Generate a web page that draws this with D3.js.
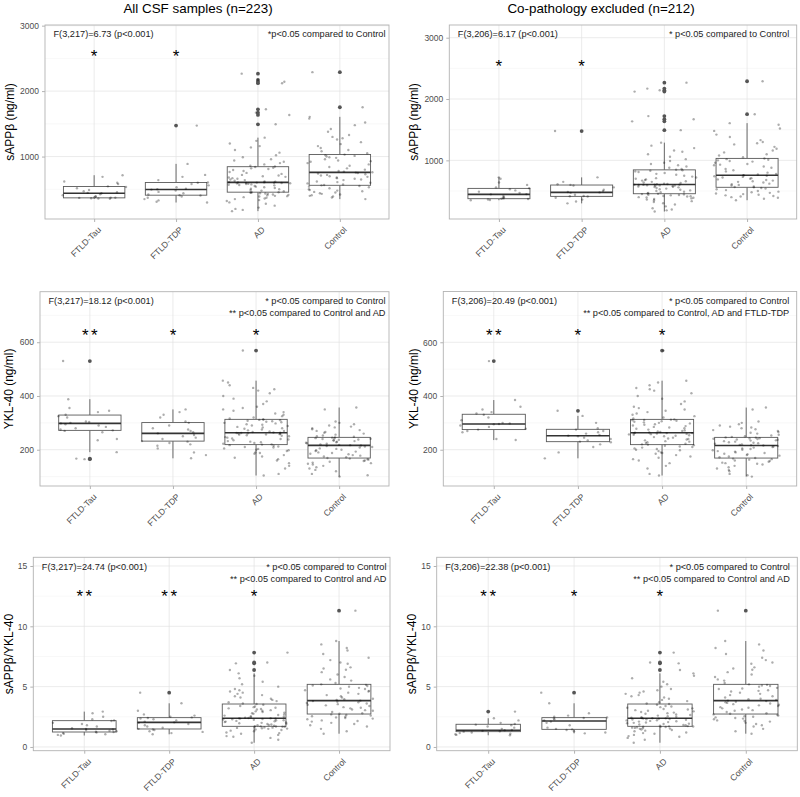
<!DOCTYPE html>
<html><head><meta charset="utf-8">
<script src="https://cdn.jsdelivr.net/npm/d3@7/dist/d3.min.js"></script>
<style>
body{margin:0;background:#fff}
svg{display:block;font-family:"Liberation Sans",Arial,Helvetica,sans-serif}
</style>
</head><body>
<svg id="c" width="800" height="797"></svg>
<script>
// ---------------- DATA ----------------
const categories = ["FTLD-Tau","FTLD-TDP","AD","Control"];
const columnTitles = ["All CSF samples (n=223)","Co-pathology excluded (n=212)"];
const yTitles = ["sAPPβ (ng/ml)","YKL-40 (ng/ml)","sAPPβ/YKL-40"];

// sAPPβ (ng/ml)
const sappbTauAll = [355,360,362,368,370,372,378,385,395,410,425,440,445,455,470,490,515,535,545,580,600,620,690,715];
const sappbTdpAll = [298,310,330,350,370,390,405,410,420,440,460,480,495,500,510,530,560,580,600,605,640,690,720,888,1473];
const sappbTauEx  = [350,355,362,370,375,380,390,400,420,446,450,470,490,510,530,545,560,600,640,700,723];
const sappbTdpEx  = [299,330,360,390,410,415,420,440,470,478,485,500,520,560,590,600,610,650,723,1478];
const sappbAD = [166,185,200,220,250,280,300,320,335,350,360,370,380,390,395,400,410,415,420,430,435,440,445,450,
  455,460,470,480,490,500,510,520,530,540,550,560,565,570,575,580,585,590,592,595,598,600,602,603,
  605,610,615,620,630,640,650,660,670,680,690,700,710,720,735,750,765,780,795,810,820,830,840,847,
  860,880,900,920,940,960,990,1020,1060,1100,1140,1160,1200,1240,1289,1493,1636,1671,1722,2121,2142,2170,2267];
const sappbControl = [350,375,390,400,410,420,430,440,450,460,470,480,490,500,515,530,540,550,560,
  565,575,590,600,610,620,640,650,660,670,680,690,700,710,720,730,740,748,755,
  760,770,780,800,820,840,860,880,900,920,930,940,960,980,990,1000,1010,1020,1030,
  1050,1080,1100,1130,1160,1190,1220,1260,1280,1300,1330,1380,1420,1480,1520,1580,1607,1753,2290];

// YKL-40 (ng/ml)
const yklTauAll = [165,167,191,235,240,265,270,272,275,280,285,290,295,298,300,303,305,320,325,330,340,345,355,388,530];
const yklTdpAll = [168,180,190,205,215,220,225,230,232,240,245,250,255,261,265,270,275,280,290,300,305,320,330,340,350];
const yklTauEx  = [236,240,265,270,275,278,285,290,295,296,298,300,310,320,330,335,340,350,360,385,530];
const yklTdpEx  = [168,190,210,220,228,230,235,240,245,250,252,255,260,265,270,275,280,300,326,345];
const yklAD = [104,110,130,140,150,160,165,170,175,180,185,188,190,195,198,200,203,205,208,210,212,215,217,219,
  220,222,225,228,230,232,235,238,240,242,245,247,250,252,254,256,257,258,259,260,261,262,262,263,
  264,266,268,270,272,275,278,280,283,285,288,290,293,295,298,300,302,304,306,308,310,311,312,313,
  316,320,325,330,335,340,345,350,355,360,370,380,390,400,410,420,425,430,440,450,457,569];
const yklControl = [100,105,110,120,125,130,135,140,145,148,150,152,155,158,160,163,165,167,169,
  172,175,178,180,183,185,188,190,193,195,198,200,203,205,208,210,212,214,216,
  217,218,220,222,224,226,228,230,232,234,235,237,238,240,241,242,243,245,246,
  248,250,253,256,260,263,266,270,273,276,280,283,286,290,295,300,305,350,357];

// sAPPβ / YKL-40
const ratioTauAll = [0.95,1.0,1.05,1.1,1.15,1.2,1.24,1.26,1.3,1.35,1.4,1.45,1.5,1.55,1.7,1.8,1.9,2.0,2.15,2.2,2.3,2.5,2.8,2.93];
const ratioTdpAll = [1.05,1.15,1.25,1.3,1.4,1.45,1.5,1.6,1.7,1.8,1.9,2.0,2.04,2.1,2.2,2.3,2.35,2.4,2.45,2.5,2.6,2.7,3.0,3.62,4.5];
const ratioTauEx  = [0.97,1.0,1.05,1.1,1.15,1.2,1.27,1.3,1.33,1.38,1.4,1.5,1.6,1.7,1.8,1.85,1.9,2.0,2.2,2.38,2.93];
const ratioTdpEx  = [1.13,1.2,1.3,1.4,1.46,1.5,1.6,1.8,2.0,2.1,2.2,2.3,2.35,2.4,2.45,2.5,2.6,2.8,3.62,4.5];
const ratioAD = [0.35,0.6,0.75,0.85,0.9,1.0,1.1,1.15,1.2,1.3,1.35,1.4,1.45,1.5,1.52,1.55,1.58,1.6,1.62,1.65,1.67,1.68,1.7,1.71,
  1.73,1.76,1.8,1.83,1.86,1.9,1.93,1.96,2.0,2.03,2.06,2.1,2.13,2.16,2.2,2.22,2.25,2.28,2.3,2.32,2.34,2.35,2.37,2.38,
  2.4,2.43,2.46,2.5,2.55,2.6,2.65,2.7,2.75,2.8,2.85,2.9,2.95,3.0,3.05,3.1,3.15,3.2,3.25,3.3,3.35,3.4,3.5,3.56,
  3.6,3.7,3.8,3.9,4.0,4.1,4.2,4.3,4.4,4.5,4.6,4.7,4.8,5.0,5.2,5.4,5.7,5.9,6.1,6.38,6.93,7.0,7.82];
const ratioControl = [1.1,1.3,1.5,1.7,1.8,1.9,2.0,2.1,2.15,2.2,2.3,2.35,2.4,2.45,2.5,2.55,2.6,2.65,2.7,
  2.75,2.8,2.9,3.0,3.05,3.1,3.2,3.25,3.3,3.4,3.45,3.5,3.55,3.6,3.65,3.7,3.75,3.8,3.84,
  3.9,3.95,4.0,4.1,4.2,4.3,4.4,4.5,4.6,4.65,4.7,4.8,4.85,4.9,5.0,5.05,5.1,5.15,5.19,
  5.3,5.5,5.6,5.8,6.0,6.2,6.4,6.5,6.6,6.9,7.0,7.2,7.4,7.7,8.0,8.2,8.5,8.78,11.3];

// box statistics [lower whisker, Q1, median, Q3, upper whisker]
const sappbAllBox = [[355,369,440,542,715],[298,410,496,603,888],[166,456,606,845,1289],[350,561,758,1032,1607]];
const sappbExBox  = [[350,375,446,543,723],[299,413,478,598,723],[166,456,606,845,1289],[350,561,758,1032,1607]];
const yklAllBox   = [[191,272,298,329,388],[168,232,261,301,350],[104,219,263,313,457],[100,169,216,246,357]];
const yklExBox    = [[236,275,296,332,385],[168,230,252,276,326],[104,219,263,313,457],[100,169,216,246,357]];
const ratioAllBox = [[0.95,1.24,1.49,2.18,2.93],[1.05,1.49,2.04,2.43,3.62],[0.35,1.71,2.38,3.56,6.1],[1.1,2.73,3.84,5.19,8.78]];
const ratioExBox  = [[0.97,1.27,1.38,1.88,2.38],[1.13,1.46,2.15,2.43,3.62],[0.35,1.71,2.38,3.56,6.1],[1.1,2.73,3.84,5.19,8.78]];

// y ticks
const sappbTicks = [1000,2000,3000], sappbMinor = [500,1500,2500];
const yklTicks = [200,400,600], yklMinor = [100,300,500,700];
const ratioTicks = [0,5,10,15], ratioMinor = [2.5,7.5,12.5];

// annotations
const statTexts = ["F(3,217)=6.73 (p<0.001)","F(3,206)=6.17 (p<0.001)","F(3,217)=18.12 (p<0.001)",
                   "F(3,206)=20.49 (p<0.001)","F(3,217)=24.74 (p<0.001)","F(3,206)=22.38 (p<0.001)"];
const noteTexts = [["*p<0.05 compared to Control"],["* p<0.05 compared to Control"],
  ["* p<0.05 compared to Control","** p<0.05 compared to Control and AD"],
  ["* p<0.05 compared to Control","** p<0.05 compared to Control, AD and FTLD-TDP"],
  ["* p<0.05 compared to Control","** p<0.05 compared to Control and AD"],
  ["* p<0.05 compared to Control","** p<0.05 compared to Control and AD"]];
const starLabels = [["*","*","",""],["*","*","",""],["**","*","*",""],["**","*","*",""],["**","**","*",""],["**","*","*",""]];
const starValues = [2600,2600,642,642,12.8,12.8];

// ---------------- LAYOUT ----------------
const panels = [
  {l:45,   r:389,   t:25,    b:219,   dom:[46,3010],   ticks:sappbTicks, minor:sappbMinor, yt:0, ytx:10,  col:0,
   groups:[sappbTauAll,sappbTdpAll,sappbAD,sappbControl], boxes:sappbAllBox},
  {l:449.3,r:796.7, t:25,    b:219,   dom:[44,3207],   ticks:sappbTicks, minor:sappbMinor, yt:0, ytx:414, col:1,
   groups:[sappbTauEx,sappbTdpEx,sappbAD,sappbControl], boxes:sappbExBox},
  {l:40,   r:389,   t:291.7, b:486,   dom:[65,788],    ticks:yklTicks, minor:yklMinor, yt:1, ytx:9,   col:0,
   groups:[yklTauAll,yklTdpAll,yklAD,yklControl], boxes:yklAllBox},
  {l:443.3,r:796.7, t:291.5, b:486,   dom:[65,789],    ticks:yklTicks, minor:yklMinor, yt:1, ytx:414, col:1,
   groups:[yklTauEx,yklTdpEx,yklAD,yklControl], boxes:yklExBox},
  {l:33.3, r:390,   t:557.3, b:750.7, dom:[-0.31,15.72], ticks:ratioTicks, minor:ratioMinor, yt:2, ytx:9, col:0,
   groups:[ratioTauAll,ratioTdpAll,ratioAD,ratioControl], boxes:ratioAllBox},
  {l:436.7,r:797.3, t:557.3, b:750.7, dom:[-0.31,15.72], ticks:ratioTicks, minor:ratioMinor, yt:2, ytx:412, col:1,
   groups:[ratioTauEx,ratioTdpEx,ratioAD,ratioControl], boxes:ratioExBox}
];

const svg = d3.select("#c");
svg.append("rect").attr("width",800).attr("height",797).attr("fill","#fff");

// column titles
[198,601].forEach((cx,i)=>{
  svg.append("text").attr("x",cx).attr("y",12.5).attr("text-anchor","middle")
    .attr("font-size","13.4px").attr("fill","#000").text(columnTitles[i]);
});

// deterministic horizontal jitter offset in [-0.5, 0.5]
function jit(i,g){ const s = Math.sin((i+1)*12.9898 + (g+1)*78.233)*43758.5453; return (s - Math.floor(s)) - 0.5; }

panels.forEach((p,pi)=>{
  const g = svg.append("g");
  const x = d3.scalePoint().domain(categories).range([p.l,p.r]).padding(0.6);
  const y = d3.scaleLinear().domain(p.dom).range([p.b,p.t]);
  const step = x.step();

  // background & grid
  g.append("rect").attr("x",p.l).attr("y",p.t).attr("width",p.r-p.l).attr("height",p.b-p.t).attr("fill","#fff");
  g.selectAll(".mn").data(p.minor).join("line")
    .attr("x1",p.l).attr("x2",p.r).attr("y1",d=>y(d)).attr("y2",d=>y(d))
    .attr("stroke","#f0f0f0").attr("stroke-width",0.5);
  g.selectAll(".mj").data(p.ticks).join("line")
    .attr("x1",p.l).attr("x2",p.r).attr("y1",d=>y(d)).attr("y2",d=>y(d))
    .attr("stroke","#e3e3e3").attr("stroke-width",0.7);
  g.selectAll(".mx").data(categories).join("line")
    .attr("x1",d=>x(d)).attr("x2",d=>x(d)).attr("y1",p.t).attr("y2",p.b)
    .attr("stroke","#e3e3e3").attr("stroke-width",0.7);

  // boxplots
  const bw = step*0.75;
  p.boxes.forEach((s,gi)=>{
    const cx = x(categories[gi]);
    g.append("line").attr("x1",cx).attr("x2",cx).attr("y1",y(s[3])).attr("y2",y(s[4]))
      .attr("stroke","#5a5a5a").attr("stroke-width",0.9);
    g.append("line").attr("x1",cx).attr("x2",cx).attr("y1",y(s[1])).attr("y2",y(s[0]))
      .attr("stroke","#5a5a5a").attr("stroke-width",0.9);
    g.append("rect").attr("x",cx-bw/2).attr("width",bw).attr("y",y(s[3])).attr("height",y(s[1])-y(s[3]))
      .attr("fill","#fff").attr("stroke","#5a5a5a").attr("stroke-width",0.9);
    g.append("line").attr("x1",cx-bw/2).attr("x2",cx+bw/2).attr("y1",y(s[2])).attr("y2",y(s[2]))
      .attr("stroke","#333").attr("stroke-width",1.6);
    const outs = p.groups[gi].filter(v=>v<s[0]||v>s[4]);
    g.selectAll(null).data(outs).join("circle")
      .attr("cx",cx).attr("cy",d=>y(d)).attr("r",1.9).attr("fill","#555");
  });

  // jittered points
  p.groups.forEach((vals,gi)=>{
    const cx = x(categories[gi]);
    g.selectAll(null).data(vals).join("circle")
      .attr("cx",(d,i)=>cx + jit(i,gi*7+pi)*0.8*step).attr("cy",d=>y(d)).attr("r",1.2)
      .attr("fill","#000").attr("fill-opacity",0.32);
  });

  // border
  g.append("rect").attr("x",p.l).attr("y",p.t).attr("width",p.r-p.l).attr("height",p.b-p.t)
    .attr("fill","none").attr("stroke","#b3b3b3").attr("stroke-width",0.9);

  // stars
  starLabels[pi].forEach((lab,gi)=>{
    if(!lab) return;
    g.append("text").attr("x",x(categories[gi]) + (lab.length>1?1.25:0)).attr("y",y(starValues[pi])+9.8)
      .attr("text-anchor","middle").attr("font-size","17px").attr("letter-spacing",lab.length>1?"2.5px":null)
      .attr("fill","#000").text(lab);
  });

  // annotations
  g.append("text").attr("x",p.l+8.5).attr("y",p.t+12.3).attr("font-size","9.2px").attr("fill","#222").text(statTexts[pi]);
  noteTexts[pi].forEach((t,k)=>{
    g.append("text").attr("x",p.r-(p.col?7.5:3.5)).attr("y",p.t+12.3+k*12).attr("text-anchor","end")
      .attr("font-size","9.2px").attr("fill","#222").text(t);
  });

  // axes
  const ya = g.append("g").attr("transform",`translate(${p.l},0)`)
    .call(d3.axisLeft(y).tickValues(p.ticks).tickFormat(d3.format("d")).tickSize(3).tickPadding(3).tickSizeOuter(0));
  ya.select(".domain").remove();
  ya.selectAll("line").attr("stroke","#b3b3b3");
  ya.selectAll("text").attr("fill","#4d4d4d").attr("font-size","8.5px").attr("font-family",null);

  const xa = g.append("g").attr("transform",`translate(0,${p.b})`)
    .call(d3.axisBottom(x).tickSize(3).tickSizeOuter(0));
  xa.select(".domain").remove();
  xa.selectAll("line").attr("stroke","#b3b3b3");
  xa.selectAll("text").attr("fill","#4d4d4d").attr("font-size","8.6px").attr("font-family",null)
    .attr("text-anchor","end").attr("y",null).attr("dy","0.72em")
    .attr("transform","translate(2.5,7) rotate(-45)");

  // y title
  const cy = (p.t+p.b)/2;
  g.append("text").attr("transform",`translate(${p.ytx},${cy}) rotate(-90)`)
    .attr("text-anchor","middle").attr("dy","0.35em").attr("font-size","12px").attr("fill","#000")
    .text(yTitles[p.yt]);
});
</script>
</body></html>
